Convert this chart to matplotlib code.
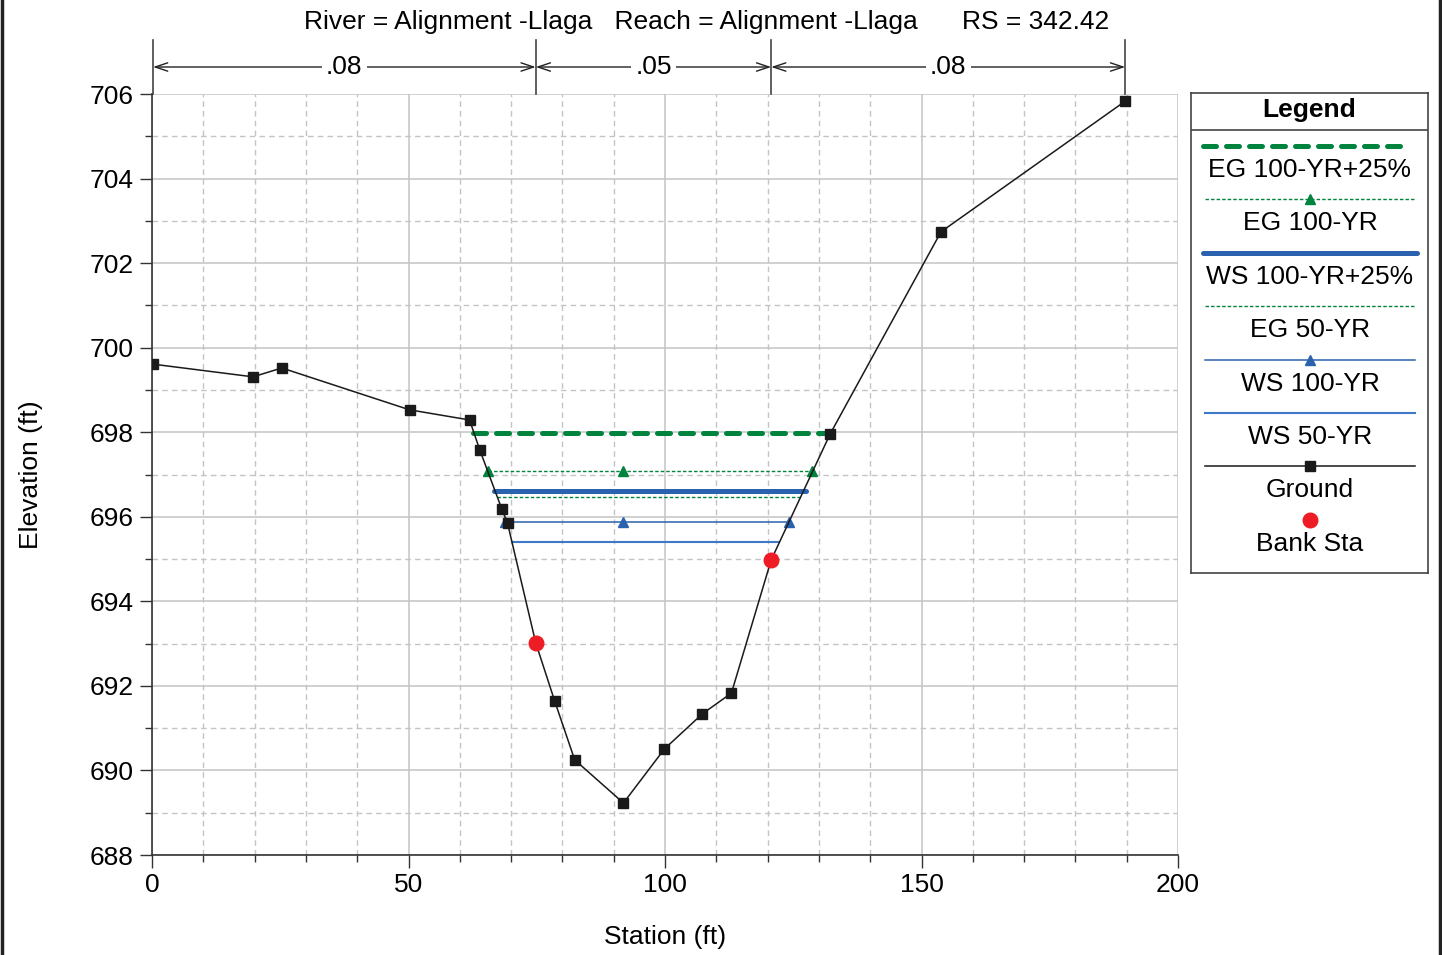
import numpy as np
import matplotlib.pyplot as plt
import matplotlib.transforms as mtransforms
from matplotlib.lines import Line2D

plt.rcParams['font.family'] = ['Liberation Sans', 'DejaVu Sans']

# --- data -----------------------------------------------------------------
station = [0.2, 19.7, 25.3, 50.2, 61.9, 63.9, 68.2, 69.3, 74.8, 78.5, 82.4,
           91.9, 99.9, 107.3, 112.95, 120.7, 132.2, 153.8, 189.7]
elev = [699.61, 699.31, 699.52, 698.53, 698.29, 697.58, 696.18, 695.85, 693.02,
        691.64, 690.25, 689.23, 690.51, 691.34, 691.83, 694.98, 697.96, 702.74,
        705.83]

bank_sta = [74.8, 120.7]
bank_elev = [693.02, 694.98]

# water surface / energy grade profiles: (left sta, right sta, elevation)
eg100_25 = (62.5, 132.2, 697.98)
eg100 = (65.4, 128.7, 697.08)
ws100_25 = (66.6, 127.4, 696.61)
eg50 = (67.3, 126.8, 696.47)
ws100 = (68.9, 124.2, 695.88)
ws50 = (70.3, 122.3, 695.40)
mid_marker_sta = 91.9

n_values = ['.08', '.05', '.08']
n_breaks = [0.2, 74.8, 120.7, 189.7]

title = 'River = Alignment -Llaga   Reach = Alignment -Llaga      RS = 342.42'

green = '#00843d'
blue = '#2a62b0'
blue_lt = '#3f78c6'
FS = 19

# --- figure -----------------------------------------------------------------
fig = plt.figure(figsize=(14.42, 9.55), dpi=100)
ax = fig.add_axes([152 / 1442, 1 - 855 / 955, (1178 - 152) / 1442, (855 - 94) / 955])

ax.set_xlim(0, 200)
ax.set_ylim(688, 706)
ax.set_xticks(np.arange(0, 201, 50))
ax.set_xticks(np.arange(0, 201, 10), minor=True)
ax.set_yticks(np.arange(688, 707, 2))
ax.set_yticks(np.arange(689, 706, 2), minor=True)
ax.grid(True, which='major', color='#c4c4c4', lw=1.1, ls='-')
ax.grid(True, which='minor', color='#c4c4c4', lw=1.0, ls=(0, (4, 3)))
ax.set_axisbelow(True)
for s in ['top', 'right']:
    ax.spines[s].set_visible(False)
for s in ['left', 'bottom']:
    ax.spines[s].set_color('#333333')
    ax.spines[s].set_linewidth(1.2)
ax.tick_params(which='major', length=9, width=1, direction='out', labelsize=FS,
               color='#333333', pad=4)
ax.tick_params(which='minor', length=5, width=1, direction='out', color='#333333')

ax.set_xlabel('Station (ft)', fontsize=FS, labelpad=20)
ax.set_ylabel('Elevation (ft)', fontsize=FS, labelpad=34)

def hline(p, **kw):
    ax.plot([p[0], p[1]], [p[2], p[2]], **kw)

hline(ws50, color=blue_lt, lw=1.5, zorder=3)
hline(ws100, color=blue, lw=1.1, zorder=3)
ax.plot([ws100[0], mid_marker_sta, ws100[1]], [ws100[2]] * 3,
        ls='none', marker='^', ms=7, color=blue, zorder=4)
hline(eg50, color=green, lw=1.0, ls=(0, (2.5, 1.5)), zorder=3)
hline(ws100_25, color=blue, lw=3.6, solid_capstyle='round', zorder=3)
hline(eg100, color=green, lw=1.0, ls=(0, (2.5, 1.5)), zorder=3)
ax.plot([eg100[0], mid_marker_sta, eg100[1]], [eg100[2]] * 3,
        ls='none', marker='^', ms=7, color=green, zorder=4)
hline(eg100_25, color=green, lw=3.6, ls=(0, (2.6, 2.0)), dash_capstyle='round',
      zorder=3)

ax.plot(station, elev, color='#1a1a1a', lw=1.1, marker='s', ms=6.5, zorder=5)
ax.plot(bank_sta, bank_elev, ls='none', marker='o', ms=10.5, color='#ee1c25',
        zorder=6)

# --- n-value bar on top -----------------------------------------------------
trans = mtransforms.blended_transform_factory(ax.transData, ax.transAxes)
y_arr = (855 - 67) / 761
for xb in n_breaks:
    ax.plot([xb, xb], [1.0, (855 - 40) / 761], transform=trans, color='#444444',
            lw=1.2, clip_on=False)
for i, lab in enumerate(n_values):
    a, b = n_breaks[i], n_breaks[i + 1]
    m = (a + b) / 2
    for end in (a, b):
        ax.annotate('', xy=(end, y_arr), xycoords=trans, xytext=(m, y_arr),
                    textcoords=trans,
                    arrowprops=dict(arrowstyle='->,head_length=0.9,head_width=0.3',
                                    color='#222222', lw=1.0,
                                    shrinkA=0, shrinkB=0))
    ax.text(m, y_arr, lab, transform=trans, ha='center', va='center', fontsize=FS,
            bbox=dict(facecolor='white', edgecolor='none', pad=3), zorder=10)

fig.text(707 / 1442, 1 - 22 / 955, title, ha='center', va='center', fontsize=FS)

# --- legend box ---------------------------------------------------------------
lg = fig.add_axes([1191 / 1442, 1 - 573 / 955, 237 / 1442, 480 / 955])
lg.set_xlim(0, 237)
lg.set_ylim(480, 0)
lg.set_xticks([])
lg.set_yticks([])
for s in lg.spines.values():
    s.set_color('#444444')
    s.set_linewidth(1.2)
lg.text(118.5, 17, 'Legend', ha='center', va='center', fontsize=FS,
        fontweight='bold')
lg.plot([0, 237], [37, 37], color='#444444', lw=1.2)

entries = [
    ('EG 100-YR+25%', dict(color=green, lw=3.6, ls=(0, (2.6, 2.0)),
                           dash_capstyle='round'), None, 12, 218),
    ('EG 100-YR', dict(color=green, lw=1.0, ls=(0, (2.5, 1.5))), ('^', green), 14, 224),
    ('WS 100-YR+25%', dict(color=blue, lw=3.6, solid_capstyle='round'), None, 12, 226),
    ('EG 50-YR', dict(color=green, lw=1.0, ls=(0, (2.5, 1.5))), None, 14, 224),
    ('WS 100-YR', dict(color=blue, lw=1.1), ('^', blue), 14, 224),
    ('WS 50-YR', dict(color=blue_lt, lw=1.5), None, 14, 224),
    ('Ground', dict(color='#1a1a1a', lw=1.1), ('s', '#1a1a1a'), 14, 224),
    ('Bank Sta', None, ('o', '#ee1c25'), 14, 224),
]
for k, (name, style, mk, x0, x1) in enumerate(entries):
    yl = 53 + k * 53.4
    if style is not None:
        lg.plot([x0, x1], [yl, yl], **style)
    if mk is not None:
        ms = 10.5 if mk[0] == 'o' else 6.5
        lg.plot([119], [yl], ls='none', marker=mk[0], color=mk[1], ms=ms)
    lg.text(119, yl + 24, name, ha='center', va='center', fontsize=FS)

# figure side borders
fig.add_artist(Line2D([2 / 1442, 2 / 1442], [0, 1], color='#222222', lw=2.5))
fig.add_artist(Line2D([1440 / 1442, 1440 / 1442], [0, 1], color='#222222', lw=2.5))

fig.savefig('out.png', dpi=100)
